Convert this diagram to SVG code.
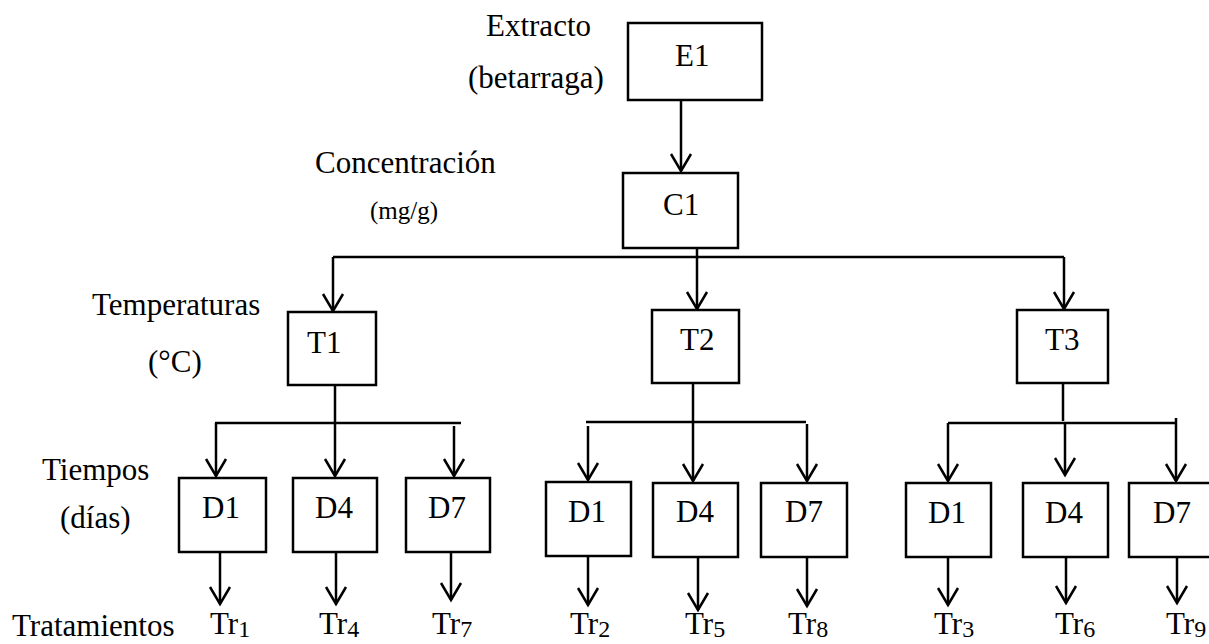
<svg xmlns="http://www.w3.org/2000/svg" width="1209" height="644" viewBox="0 0 1209 644">
<style>
  .box { fill: #fff; stroke: #000; stroke-width: 2.5; }
  .t { font-family: "Liberation Serif", "Times New Roman", serif; font-size: 31px; fill: #000; }
  .s { font-size: 24px; }
  .ln { stroke: #000; stroke-width: 2.5; fill: none; }
</style>
<defs>
  <marker id="arr" markerUnits="userSpaceOnUse" markerWidth="30" markerHeight="30" viewBox="-20 -15 30 30" refX="0" refY="0" orient="auto" overflow="visible">
    <path d="M-17,-10 L0,0 L-17,10" fill="none" stroke="#000" stroke-width="2.5"/>
  </marker>
</defs>
<rect width="1209" height="644" fill="#fff"/>

<g id="labels">
  <text class="t" x="486" y="36">Extracto</text>
  <text class="t" x="468" y="88">(betarraga)</text>
  <text class="t" x="315" y="173">Concentración</text>
  <text class="t" x="370" y="219" style="font-size:25px">(mg/g)</text>
  <text class="t" x="92" y="315">Temperaturas</text>
  <text class="t" x="148" y="372">(°C)</text>
  <text class="t" x="42" y="480">Tiempos</text>
  <text class="t" x="60" y="528">(días)</text>
  <text class="t" x="12" y="636">Tratamientos</text>
</g>

<g id="connectors">
  <line class="ln" x1="681" y1="100" x2="681" y2="171" marker-end="url(#arr)"/>
  <line class="ln" x1="697" y1="248" x2="697" y2="257"/>
  <line class="ln" x1="333" y1="257" x2="1064" y2="257"/>
  <line class="ln" x1="333" y1="257" x2="333" y2="311" marker-end="url(#arr)"/>
  <line class="ln" x1="697" y1="257" x2="697" y2="309" marker-end="url(#arr)"/>
  <line class="ln" x1="1064" y1="257" x2="1064" y2="309" marker-end="url(#arr)"/>

  <line class="ln" x1="335" y1="385" x2="335" y2="423"/>
  <line class="ln" x1="215" y1="423" x2="461" y2="423"/>
  <line class="ln" x1="216" y1="423" x2="216" y2="476" marker-end="url(#arr)"/>
  <line class="ln" x1="335" y1="423" x2="335" y2="476" marker-end="url(#arr)"/>
  <line class="ln" x1="454" y1="426" x2="454" y2="476" marker-end="url(#arr)"/>
  <line class="ln" x1="220" y1="552" x2="220" y2="604" marker-end="url(#arr)"/>
  <line class="ln" x1="336" y1="548" x2="336" y2="604" marker-end="url(#arr)"/>
  <line class="ln" x1="451" y1="548" x2="451" y2="600" marker-end="url(#arr)"/>

  <line class="ln" x1="693" y1="383" x2="693" y2="422"/>
  <line class="ln" x1="586" y1="422" x2="806" y2="422"/>
  <line class="ln" x1="588" y1="426" x2="588" y2="480" marker-end="url(#arr)"/>
  <line class="ln" x1="693" y1="422" x2="693" y2="481" marker-end="url(#arr)"/>
  <line class="ln" x1="807" y1="424" x2="807" y2="481" marker-end="url(#arr)"/>
  <line class="ln" x1="588" y1="553" x2="588" y2="605" marker-end="url(#arr)"/>
  <line class="ln" x1="698" y1="557" x2="698" y2="610" marker-end="url(#arr)"/>
  <line class="ln" x1="807" y1="553" x2="807" y2="606" marker-end="url(#arr)"/>

  <line class="ln" x1="1063" y1="383" x2="1063" y2="421"/>
  <line class="ln" x1="948" y1="423" x2="1177" y2="423"/>
  <line class="ln" x1="948" y1="423" x2="948" y2="481" marker-end="url(#arr)"/>
  <line class="ln" x1="1065" y1="423" x2="1065" y2="475" marker-end="url(#arr)"/>
  <line class="ln" x1="1176" y1="418" x2="1176" y2="481" marker-end="url(#arr)"/>
  <line class="ln" x1="948" y1="553" x2="948" y2="605" marker-end="url(#arr)"/>
  <line class="ln" x1="1066" y1="550" x2="1066" y2="603" marker-end="url(#arr)"/>
  <line class="ln" x1="1177" y1="550" x2="1177" y2="603" marker-end="url(#arr)"/>
</g>

<g id="E1"><rect class="box" x="628" y="23" width="134" height="77"/><text class="t" x="675" y="66">E1</text></g>
<g id="C1"><rect class="box" x="623" y="173" width="115" height="75"/><text class="t" x="663" y="215">C1</text></g>

<g id="T1"><rect class="box" x="288" y="312" width="88" height="73"/><text class="t" x="307" y="353">T1</text></g>
<g id="T2"><rect class="box" x="652" y="310" width="87" height="73"/><text class="t" x="680" y="350">T2</text></g>
<g id="T3"><rect class="box" x="1017" y="310" width="91" height="73"/><text class="t" x="1045" y="350">T3</text></g>

<g id="T1-D1"><rect class="box" x="179" y="478" width="87" height="74"/><text class="t" x="202" y="518">D1</text></g>
<g id="T1-D4"><rect class="box" x="293" y="478" width="84" height="74"/><text class="t" x="315" y="518">D4</text></g>
<g id="T1-D7"><rect class="box" x="406" y="478" width="84" height="74"/><text class="t" x="428" y="518">D7</text></g>

<g id="T2-D1"><rect class="box" x="546" y="482" width="85" height="74"/><text class="t" x="568" y="522">D1</text></g>
<g id="T2-D4"><rect class="box" x="653" y="483" width="85" height="74"/><text class="t" x="676" y="522">D4</text></g>
<g id="T2-D7"><rect class="box" x="761" y="483" width="86" height="74"/><text class="t" x="785" y="522">D7</text></g>

<g id="T3-D1"><rect class="box" x="906" y="483" width="85" height="74"/><text class="t" x="928" y="523">D1</text></g>
<g id="T3-D4"><rect class="box" x="1023" y="483" width="85" height="74"/><text class="t" x="1045" y="523">D4</text></g>
<g id="T3-D7"><rect class="box" x="1129" y="483" width="90" height="74"/><text class="t" x="1153" y="523">D7</text></g>

<g id="Tr1"><text class="t" x="210" y="634">Tr<tspan class="s" dy="3">1</tspan></text></g>
<g id="Tr4"><text class="t" x="319" y="634">Tr<tspan class="s" dy="3">4</tspan></text></g>
<g id="Tr7"><text class="t" x="432" y="634">Tr<tspan class="s" dy="3">7</tspan></text></g>
<g id="Tr2"><text class="t" x="570" y="634">Tr<tspan class="s" dy="3">2</tspan></text></g>
<g id="Tr5"><text class="t" x="685" y="634">Tr<tspan class="s" dy="3">5</tspan></text></g>
<g id="Tr8"><text class="t" x="788" y="634">Tr<tspan class="s" dy="3">8</tspan></text></g>
<g id="Tr3"><text class="t" x="934" y="634">Tr<tspan class="s" dy="3">3</tspan></text></g>
<g id="Tr6"><text class="t" x="1055" y="634">Tr<tspan class="s" dy="3">6</tspan></text></g>
<g id="Tr9"><text class="t" x="1166" y="634">Tr<tspan class="s" dy="3">9</tspan></text></g>
</svg>
